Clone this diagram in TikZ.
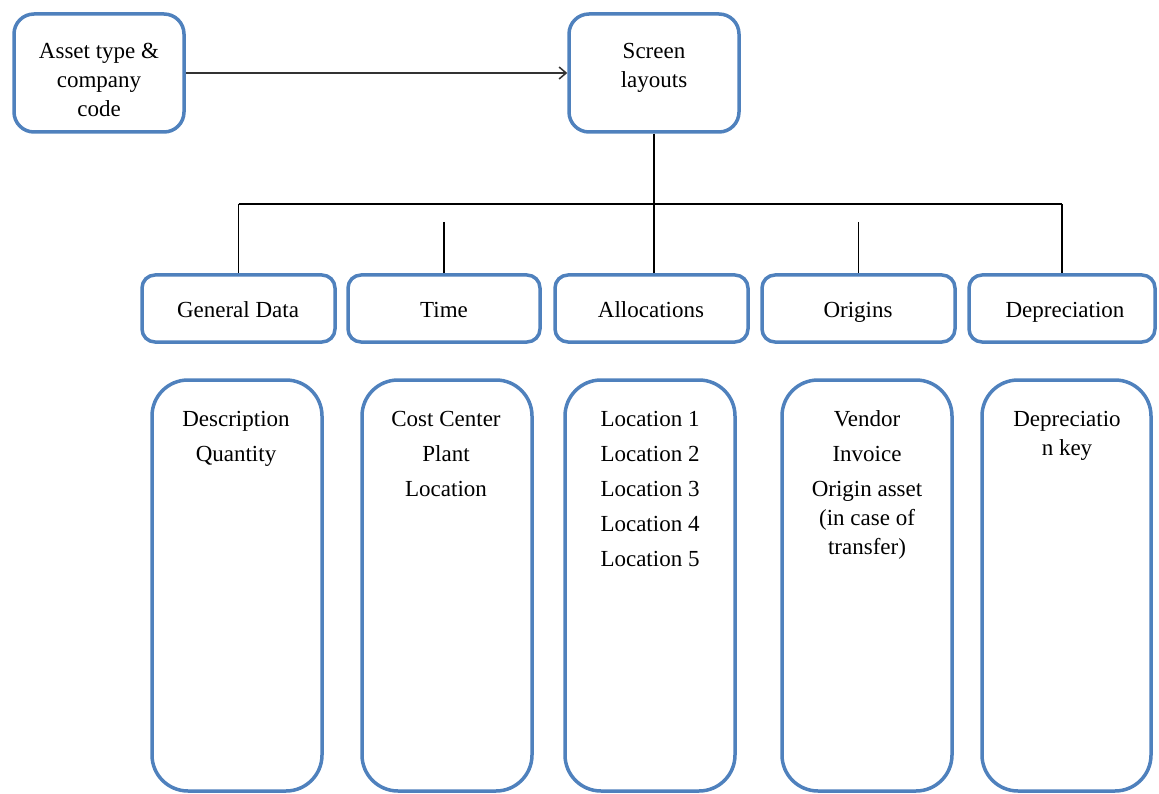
\documentclass[tikz,border=0pt]{standalone}
\usepackage{fontspec}
\setmainfont{Liberation Serif}
\usetikzlibrary{arrows.meta}
\definecolor{boxblue}{HTML}{4F81BD}
\tikzset{
  box/.style={draw=boxblue, line width=3.5pt, fill=white, inner sep=0pt, rectangle},
  topbox/.style={box, rounded corners=20pt},
  midbox/.style={box, rounded corners=13pt},
  lowbox/.style={box, rounded corners=36pt},
  txt/.style={font=\fontsize{23}{29}\selectfont, align=center, anchor=north, inner sep=0pt},
  conn/.style={line width=1.2pt, draw=black},
  arr/.style={line width=1.5pt, draw=black!80, -{Straight Barb[length=7pt,width=12pt]}}
}
\begin{document}
\begin{tikzpicture}[x=1pt,y=-1pt]
\useasboundingbox (0,0) rectangle (1159,794);
% top row
\node[topbox, minimum width=170pt, minimum height=118pt] (asset) at (99,73) {};
\node[topbox, minimum width=170pt, minimum height=118pt] (screen) at (654,73) {};
\node[txt] (assett) at (99,37.7) {\strut Asset type \&\\company\\code};
\node[txt] (screent) at (654,37.7) {\strut Screen\\layouts};
% middle row
\node[midbox, minimum width=193pt, minimum height=67pt] (gd) at (238.5,308.5) {};
\node[midbox, minimum width=192pt, minimum height=67pt] (time) at (444,308.5) {};
\node[midbox, minimum width=193pt, minimum height=67pt] (alloc) at (651.5,308.5) {};
\node[midbox, minimum width=193pt, minimum height=67pt] (orig) at (858.5,308.5) {};
\node[midbox, minimum width=186pt, minimum height=67pt] (dep) at (1062,308.5) {};
\node[txt] (gdt) at (238,296.7) {\strut General Data};
\node[txt] (timet) at (444,296.7) {\strut Time};
\node[txt] (alloct) at (651,296.7) {\strut Allocations};
\node[txt] (origt) at (858,296.7) {\strut Origins};
\node[txt] (dept) at (1065,296.7) {\strut Depreciation};
% lower row
\node[lowbox, minimum width=170pt, minimum height=411pt] (desc) at (237,585.5) {};
\node[lowbox, minimum width=170pt, minimum height=411pt] (cost) at (447,585.5) {};
\node[lowbox, minimum width=170pt, minimum height=411pt] (loc) at (650,585.5) {};
\node[lowbox, minimum width=170pt, minimum height=411pt] (vend) at (867,585.5) {};
\node[lowbox, minimum width=169pt, minimum height=411pt] (dkey) at (1066.5,585.5) {};
\node[txt] (desct) at (236,405.7) {\strut Description\\[6pt]Quantity};
\node[txt] (costt) at (446,405.7) {\strut Cost Center\\[6pt]Plant\\[6pt]Location};
\node[txt] (loct) at (650,405.7) {\strut Location 1\\[6pt]Location 2\\[6pt]Location 3\\[6pt]Location 4\\[6pt]Location 5};
\node[txt] (vendt) at (867,405.7) {\strut Vendor\\[6pt]Invoice\\[6pt]Origin asset\\(in case of\\transfer)};
\node[txt] (dkeyt) at (1067,405.7) {\strut Depreciatio\\n key};
% connectors
\draw[arr] (asset.east) -- (screen.west);
\coordinate (hub) at (654,204);
\coordinate (hl) at (238.5,204);
\coordinate (hr) at (1062,204);
\coordinate (tstub) at (444,222);
\coordinate (ostub) at (858.5,222);
\draw[conn] (screen.south) -- (hub);
\draw[conn] (hl) -- (hr);
\draw[conn] (hl) -- (gd.north);
\draw[conn] (hub) -- (hub |- alloc.north);
\draw[conn] (hr) -- (dep.north);
\draw[conn] (tstub) -- (time.north);
\draw[conn] (ostub) -- (orig.north);
\end{tikzpicture}
\end{document}
